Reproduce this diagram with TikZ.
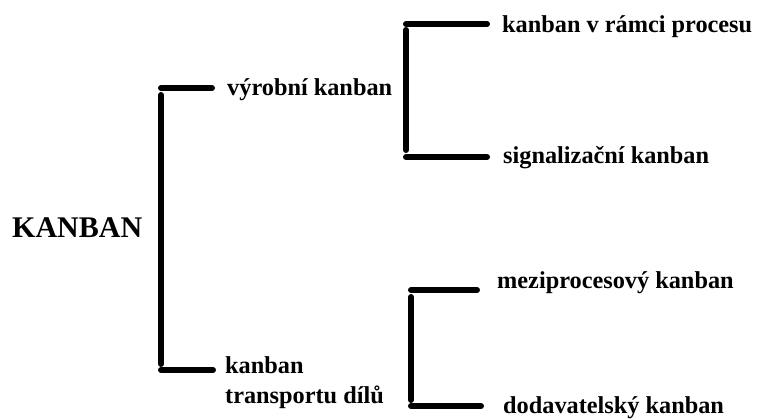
\documentclass[tikz,border=0pt]{standalone}
\usepackage{fontspec}
\setmainfont{Liberation Serif}
\begin{document}
\begin{tikzpicture}[x=1pt,y=-1pt,
  lbl/.style={inner sep=0pt,anchor=base west,font=\bfseries\fontsize{24.3}{30}\selectfont},
  root/.style={inner sep=0pt,anchor=base west,font=\bfseries\fontsize{30}{36}\selectfont},
  bar/.style={line width=6pt,line cap=round}]
\useasboundingbox (0,0) rectangle (759,418);

% labels
\node[root] (kanban) at (12,237) {KANBAN};
\node[lbl] (vyrobni) at (227,95) {výrobní kanban};
\node[lbl,align=left] (transport) at (225,403) {kanban\\transportu dílů};
\node[lbl] (ramci) at (502,32) {kanban v rámci procesu};
\node[lbl] (signal) at (503,163) {signalizační kanban};
\node[lbl] (mezi) at (497,288) {meziprocesový kanban};
\node[lbl] (dodav) at (503,413) {dodavatelský kanban};

% bracket corners
\coordinate (a1) at (161,88);  \coordinate (a2) at (161,370);
\coordinate (b1) at (406,24);  \coordinate (b2) at (406,157);
\coordinate (c1) at (411,290); \coordinate (c2) at (411,406);

% KANBAN bracket
\draw[bar] (161,95) -- (161,364);
\draw[bar] (a1) -- (212,88);
\draw[bar] (a2) -- (213,370);

% výrobní kanban bracket
\draw[bar] (406,30) -- (406,150);
\draw[bar] (b1) -- (487,24);
\draw[bar] (b2) -- (487,157);

% kanban transportu dílů bracket
\draw[bar] (411,297) -- (411,400);
\draw[bar] (c1) -- (477,290);
\draw[bar] (c2) -- (481,406);
\end{tikzpicture}
\end{document}
